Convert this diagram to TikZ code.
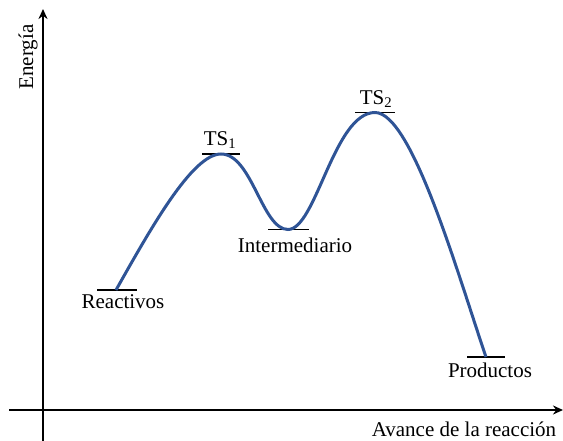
\documentclass[tikz,border=0pt]{standalone}
\usepackage{fontspec}
\setmainfont{Liberation Serif}
\usetikzlibrary{arrows.meta}
\definecolor{curveblue}{RGB}{47,84,150}
\begin{document}
\begin{tikzpicture}[x=1pt,y=-1pt,
  axis/.style={line width=2.6pt,-{Stealth[length=10pt,width=9pt]}},
  level/.style={line width=1.5pt,black},
  lbl/.style={font=\fontsize{21}{24}\selectfont,inner sep=0pt},
  energy/.style={line width=3pt,curveblue}]
\useasboundingbox (0,0) rectangle (563,441);
\coordinate (xs) at (9,410);
\coordinate (xe) at (563,410);
\coordinate (ys) at (43,441);
\coordinate (ye) at (43,9);
\draw[axis] (xs) -- (xe);
\draw[axis] (ys) -- (ye);
% levels
\coordinate (R) at (116,290);
\coordinate (T1) at (221,154);
\coordinate (I) at (288,229.5);
\coordinate (T2) at (375,112.5);
\coordinate (P) at (486,357);
\draw[level] ([xshift=-19pt]R) -- ([xshift=21pt]R);
\draw[level] ([xshift=-19pt]T1) -- ([xshift=19pt]T1);
\draw[level] ([xshift=-20pt]I) -- ([xshift=21pt]I);
\draw[level] ([xshift=-20pt]T2) -- ([xshift=20pt]T2);
\draw[level] ([xshift=-19pt]P) -- ([xshift=19pt]P);
\draw[energy] (R) .. controls (150,230) and (192,154) .. (T1)
  .. controls (252,154) and (262,229.5) .. (I)
  .. controls (316,229.5) and (334,112.5) .. (T2)
  .. controls (412,112.5) and (458,275) .. (P);
% labels
\node[lbl] (lR) at (123,302) {Reactivos};
\node[lbl] (lT1) at (220,140) {TS\textsubscript{1}};
\node[lbl] (lI) at (295,245) {Intermediario};
\node[lbl] (lT2) at (376,99) {TS\textsubscript{2}};
\node[lbl] (lP) at (490,370) {Productos};
\node[lbl] (lx) at (464,429) {Avance de la reacción};
\node[lbl,rotate=90] (ly) at (28,57) {Energía};
\end{tikzpicture}
\end{document}
